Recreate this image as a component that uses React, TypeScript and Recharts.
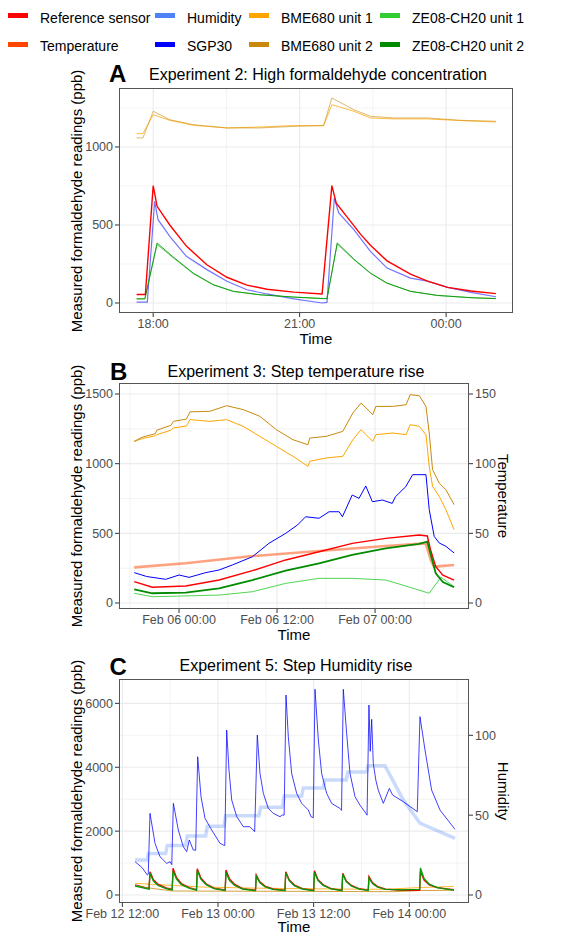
import React from 'react';
import { LineChart, Line, XAxis, YAxis, CartesianGrid } from 'recharts';

const FONT = '"Liberation Sans", Arial, Helvetica, sans-serif';

const RED = '#FF0000';
const TEMP = '#FF4500';
const HUM = '#4F83F5';
const SGP = '#0000FF';
const BME1 = '#FFA500';
const BME2 = '#C98A0C';
const ZE1 = '#32CD32';
const ZE2 = '#008B00';

// legend, column by column
const legendNames = [
  ['Reference sensor', 'Temperature'],
  ['Humidity', 'SGP30'],
  ['BME680 unit 1', 'BME680 unit 2'],
  ['ZE08-CH20 unit 1', 'ZE08-CH20 unit 2'],
];
const legendColors = [[RED, TEMP], [HUM, SGP], [BME1, BME2], [ZE1, ZE2]];

// ---- Experiment 2 (hours, 24 = midnight) ----
const aRefT = [17.66, 17.84, 18.0, 18.08, 18.34, 18.68, 19.1, 19.51, 19.92, 20.33, 20.88, 21.46, 21.66, 21.75, 21.95, 22.25, 22.45, 22.79, 23.27, 23.62, 24.03, 24.51, 25.02];
const aRef = [55, 55, 752, 620, 500, 365, 245, 165, 115, 88, 70, 58, 752, 640, 560, 440, 370, 270, 185, 140, 100, 77, 60];
const aSgpT = [17.66, 17.88, 18.03, 18.1, 18.34, 18.68, 19.1, 19.51, 19.92, 20.33, 20.88, 21.46, 21.56, 21.71, 21.8, 22.11, 22.45, 22.79, 23.27, 23.62, 24.03, 24.51, 25.02];
const aSgp = [6, 6, 652, 534, 427, 299, 214, 139, 85, 58, 26, 0, 4, 673, 577, 470, 331, 224, 160, 140, 100, 68, 40];
const aZeT = [17.66, 17.83, 18.08, 18.41, 18.82, 19.23, 19.64, 20.19, 20.88, 21.49, 21.56, 21.77, 22.11, 22.45, 22.79, 23.27, 23.82, 24.51, 25.02];
const aZe1 = [28, 28, 375, 290, 188, 116, 74, 52, 38, 29, 29, 378, 278, 190, 126, 74, 48, 34, 29];
const aZe2 = [26, 26, 385, 295, 192, 118, 75, 53, 38, 28, 28, 385, 282, 192, 128, 75, 49, 34, 28];
const aBmeT = [17.66, 17.79, 18.0, 18.34, 18.82, 19.51, 20.19, 20.88, 21.46, 21.49, 21.66, 22.11, 22.45, 22.93, 23.62, 24.3, 25.02];
const aBme1 = [1085, 1085, 1207, 1171, 1139, 1122, 1128, 1137, 1137, 1137, 1271, 1229, 1186, 1180, 1180, 1169, 1160];
const aBme2 = [1058, 1058, 1229, 1175, 1143, 1122, 1122, 1132, 1137, 1137, 1314, 1239, 1197, 1186, 1186, 1171, 1165];
const aTicks = [18, 21, 24];

// ---- Experiment 3 (hours from Feb 06 00:00) ----
const bBmeT = [-5.49, -4.5, -2.9, -2.73, -1.0, -0.69, 0.9, 1.34, 3.78, 5.82, 7.85, 9.89, 11.92, 13.95, 15.78, 16.0, 18.02, 20.05, 21.28, 22.29, 23.72, 24.1, 26.16, 27.8, 28.3, 29.41, 30.23, 30.63, 31.04, 31.85, 32.67, 33.68];
const bBme1 = [1160, 1180, 1200, 1208, 1240, 1256, 1270, 1316, 1304, 1316, 1268, 1196, 1124, 1053, 981, 1017, 1041, 1053, 1172, 1244, 1160, 1208, 1220, 1208, 1280, 1268, 1208, 981, 837, 766, 670, 526];
const bBme2 = [1160, 1190, 1215, 1240, 1275, 1304, 1320, 1372, 1376, 1416, 1388, 1340, 1244, 1172, 1136, 1184, 1196, 1232, 1364, 1435, 1352, 1411, 1411, 1423, 1495, 1488, 1411, 1220, 957, 861, 813, 706];
const bSgpT = [-5.49, -3.95, -1.63, 0, 1.22, 3.27, 4.9, 6.53, 8.98, 11.0, 13.06, 14.5, 15.5, 17.14, 18.37, 19.6, 20.0, 21.2, 22.04, 22.86, 23.67, 24.9, 26.1, 26.5, 27.76, 28.6, 30.23, 30.63, 31.24, 31.85, 32.67, 33.68];
const bSgp = [218, 190, 170, 201, 184, 218, 237, 273, 332, 428, 500, 560, 619, 608, 655, 655, 619, 775, 751, 840, 727, 739, 715, 763, 835, 921, 921, 670, 478, 431, 407, 359];
const bRefT = [-5.49, -3.27, 0.82, 4.9, 8.98, 13.06, 17.14, 21.2, 25.3, 29.4, 30.4, 30.8, 31.43, 32.3, 33.68];
const bRef = [153, 113, 122, 165, 232, 309, 368, 428, 464, 488, 481, 380, 261, 200, 165];
const bTempT = [-5.49, 0.82, 8.98, 17.14, 25.3, 30.2, 30.82, 31.22, 32.0, 33.68];
const bTemp = [25.6, 28.5, 33.7, 37.3, 40.9, 42.8, 30.9, 26.1, 26.5, 27.3];
const bZe2T = [-5.49, -3.27, 0.82, 4.9, 8.98, 13.06, 17.14, 21.2, 25.3, 29.4, 30.4, 31.43, 32.3, 33.68];
const bZe2 = [98, 70, 74, 105, 165, 232, 285, 345, 392, 424, 440, 213, 150, 113];
const bZe1T = [-5.49, -3.27, 4.9, 8.98, 13.06, 17.14, 21.2, 25.3, 27.36, 30.63, 32.06, 33.68];
const bZe1 = [70, 45, 57, 81, 141, 177, 177, 165, 129, 70, 185, 117];
const bTicks = [0, 12, 24];
const bTickLabels = ['Feb 06 00:00', 'Feb 06 12:00', 'Feb 07 00:00'];

// ---- Experiment 5 (hours from Feb 13 00:00) ----
const cSgpT = [-10.4, -9.5, -8.87, -8.75, -8.53, -7.9, -7.28, -6.44, -6.0, -5.8, -5.6, -4.98, -4.35, -3.93, -3.6, -3.1, -2.8, -2.55, -2.13, -1.63, -0.79, 0.25, 0.67, 0.85, 1.09, 1.38, 1.72, 2.35, 3.18, 4.0, 4.6, 4.93, 5.27, 5.69, 6.31, 6.94, 7.78, 8.07, 8.3, 8.53, 8.82, 9.24, 9.87, 10.5, 11.33, 11.67, 11.95, 12.17, 12.59, 13.0, 13.63, 14.26, 15.3, 15.5, 15.72, 16.14, 16.56, 17.19, 17.8, 18.56, 18.7, 18.94, 19.1, 19.28, 19.48, 19.8, 20.1, 20.74, 21.5, 21.9, 23.25, 25.0, 25.34, 25.97, 26.8, 27.85, 29.73];
const cSgp = [1043, 850, 626, 650, 2557, 1618, 1200, 992, 1043, 950, 2870, 2035, 1513, 1357, 1722, 1409, 1400, 4330, 3078, 2400, 2035, 1618, 1565, 1550, 5166, 3913, 2974, 2452, 2139, 2139, 1983, 5009, 3809, 3183, 2713, 2557, 2452, 2505, 2500, 6262, 4957, 3809, 3183, 2870, 2661, 2452, 2420, 6440, 4853, 3809, 3183, 2870, 2713, 2650, 6440, 5062, 3809, 3078, 2818, 2557, 2500, 5949, 4500, 5500, 4122, 3600, 3287, 2870, 3340, 3131, 2922, 2609, 5584, 4540, 3287, 2661, 2057];
const cHumT = [-10.4, -8.87, -8.74, -6.57, -6.36, -4.06, -3.85, -1.55, -1.34, 0.75, 0.96, 5.14, 5.35, 8.07, 8.3, 10.5, 10.7, 13.2, 13.4, 16.1, 16.3, 18.65, 18.85, 20.95, 23.25, 25.34, 25.8, 29.73];
const cHum = [22, 22, 26, 26, 31, 31, 37, 37, 43, 43, 49.6, 49.6, 55, 55, 62, 62, 67, 67, 72, 72, 77, 77, 81, 81, 59.5, 45, 44, 35.5];
const cPeakT = [-10.4, -8.65, -8.53, -8.1, -7.5, -6.5, -5.75, -5.64, -5.2, -4.6, -3.6, -2.7, -2.6, -2.15, -1.5, -0.5, 0.9, 1.0, 1.45, 2.1, 3.1, 4.7, 4.8, 5.25, 5.9, 6.9, 8.4, 8.5, 8.95, 9.6, 10.6, 12.0, 12.1, 12.55, 13.2, 14.2, 15.55, 15.65, 16.1, 16.75, 17.75, 18.85, 18.94, 19.4, 20.0, 21.0, 23.0, 25.3, 25.4, 25.85, 26.5, 27.5, 29.6];
const cRef = [313, 200, 730, 480, 330, 220, 175, 835, 540, 360, 230, 165, 824, 530, 350, 215, 155, 783, 500, 330, 200, 150, 626, 410, 280, 190, 150, 730, 470, 310, 200, 150, 757, 480, 320, 200, 150, 678, 440, 300, 195, 150, 574, 380, 270, 185, 150, 150, 730, 470, 320, 230, 165];
const cZe1 = [300, 190, 670, 430, 295, 205, 165, 740, 490, 325, 215, 155, 760, 490, 325, 205, 145, 700, 450, 295, 190, 140, 580, 380, 255, 180, 140, 680, 440, 285, 190, 140, 700, 450, 295, 195, 140, 640, 410, 275, 185, 145, 520, 350, 245, 180, 165, 180, 820, 510, 335, 235, 155];
const cZe2 = [280, 180, 690, 440, 300, 200, 160, 760, 500, 330, 210, 150, 780, 500, 330, 200, 140, 720, 460, 300, 185, 135, 600, 390, 260, 175, 135, 700, 450, 290, 185, 135, 720, 460, 300, 190, 135, 660, 420, 280, 180, 140, 540, 360, 250, 175, 160, 175, 850, 520, 340, 230, 150];
const cBme1T = [-10.4, -5.7, -2, 4.8, 12, 19, 21, 25, 29.6];
const cBme1 = [365, 300, 250, 215, 195, 180, 180, 230, 270];
const cBme2T = [-10.4, -8, -5.7, 10, 21, 22, 25.5, 29.6];
const cBme2 = [280, 200, 125, 115, 105, 105, 140, 150];
const cTicks = [-12, 0, 12, 24];
const cTickLabels = ['Feb 12 12:00', 'Feb 13 00:00', 'Feb 13 12:00', 'Feb 14 00:00'];

type Pt = { t: number; v: number };
type Series = { data: Pt[]; color: string; width?: number; opacity?: number; right?: boolean };

const zip = (t: number[], v: number[]): Pt[] => t.map((x, i) => ({ t: x, v: v[i] }));

const tickStyle = { fill: '#4D4D4D', fontSize: 12.5, fontFamily: FONT };

interface PanelProps {
  plotTop: number;
  plotBottom: number;
  plotRight: number;
  xDomain: [number, number];
  xTicks: number[];
  xMinor: number[];
  xFmt: (v: number) => string;
  yDomain: [number, number];
  yTicks: number[];
  yMinor: number[];
  rightScale?: number;
  rightTicks?: number[];
  series: Series[];
}

function Panel(p: PanelProps) {
  const top = p.plotTop - 20;
  const height = p.plotBottom + 30 - top;
  const rightW = 578 - p.plotRight;
  const k = p.rightScale || 1;
  return (
    <div style={{ position: 'absolute', left: 0, top }}>
      <LineChart width={578} height={height} margin={{ top: 20, right: p.rightScale ? 0 : rightW, bottom: 0, left: 0 }}>
        <CartesianGrid stroke="#EBEBEB" strokeWidth={0.6} horizontalValues={p.yMinor} verticalValues={p.xMinor} />
        <CartesianGrid stroke="#EBEBEB" strokeWidth={1.1} horizontalValues={p.yTicks} verticalValues={p.xTicks} />
        <XAxis
          type="number"
          dataKey="t"
          domain={p.xDomain}
          ticks={p.xTicks}
          interval={0}
          allowDataOverflow
          tickFormatter={p.xFmt}
          height={30}
          axisLine={false}
          tickLine={{ stroke: '#333333' }}
          tickSize={4}
          tickMargin={2}
          tick={tickStyle}
        />
        <YAxis
          type="number"
          domain={p.yDomain}
          ticks={p.yTicks}
          interval={0}
          allowDataOverflow
          width={119}
          axisLine={false}
          tickLine={{ stroke: '#333333' }}
          tickSize={4}
          tickMargin={2}
          tick={tickStyle}
        />
        {p.rightScale && (
          <YAxis
            yAxisId="r"
            orientation="right"
            type="number"
            domain={[p.yDomain[0] / k, p.yDomain[1] / k]}
            ticks={p.rightTicks}
            interval={0}
            allowDataOverflow
            width={rightW}
            axisLine={false}
            tickLine={{ stroke: '#333333' }}
            tickSize={4}
            tickMargin={2}
            tick={tickStyle}
          />
        )}
        {p.series.map((s, i) => (
          <Line
            key={i}
            data={s.data}
            dataKey="v"
            yAxisId={s.right ? 'r' : 0}
            type="linear"
            stroke={s.color}
            strokeWidth={s.width || 1}
            strokeOpacity={s.opacity ?? 1}
            dot={false}
            activeDot={false}
            isAnimationActive={false}
          />
        ))}
      </LineChart>
      <div
        style={{
          position: 'absolute',
          left: 119,
          top: 20,
          width: p.plotRight - 119,
          height: p.plotBottom - p.plotTop,
          border: '1px solid #555555',
          boxSizing: 'border-box',
          pointerEvents: 'none',
        }}
      />
    </div>
  );
}

// text placed by its baseline (Liberation Sans metrics)
function Txt({ x, y, size, children, center, bold, lh = 1 }: { x: number; y: number; size: number; children: React.ReactNode; center?: boolean; bold?: boolean; lh?: number }) {
  const baseOff = ((lh - 1.117) / 2 + 0.905) * size;
  return (
    <div
      style={{
        position: 'absolute',
        left: x,
        top: y - baseOff,
        fontSize: size,
        lineHeight: lh,
        fontWeight: bold ? 700 : 400,
        whiteSpace: 'nowrap',
        transform: center ? 'translateX(-50%)' : undefined,
      }}
    >
      {children}
    </div>
  );
}

// rotated text placed by its centre
function VTxt({ x, y, angle, children }: { x: number; y: number; angle: number; children: React.ReactNode }) {
  return (
    <div
      style={{
        position: 'absolute',
        left: x,
        top: y,
        fontSize: 15,
        lineHeight: 1,
        whiteSpace: 'nowrap',
        transform: `translate(-50%, -50%) rotate(${angle}deg)`,
      }}
    >
      {children}
    </div>
  );
}

const yLabel = 'Measured formaldehyde readings (ppb)';

export default function App() {
  const legendX = [8, 155, 249, 380];
  return (
    <div style={{ position: 'absolute', left: 0, top: 0, width: 578, height: 933, background: '#fff', fontFamily: FONT, color: '#000', overflow: 'hidden' }}>
      {legendNames.map((col, ci) =>
        col.map((name, ri) => (
          <React.Fragment key={name}>
            <div style={{ position: 'absolute', left: legendX[ci], top: 13 + ri * 29, width: 20, height: 5, background: legendColors[ci][ri] }} />
            <Txt x={legendX[ci] + 32} y={22.7 + ri * 28.5} size={14}>{name}</Txt>
          </React.Fragment>
        ))
      )}

      <Panel
        plotTop={88}
        plotBottom={313}
        plotRight={513}
        xDomain={[17.3, 25.37]}
        xTicks={aTicks}
        xMinor={[19.5, 22.5]}
        xFmt={(h) => `${String(h % 24).padStart(2, '0')}:00`}
        yDomain={[-64, 1378]}
        yTicks={[0, 500, 1000]}
        yMinor={[250, 750, 1250]}
        series={[
          { data: zip(aBmeT, aBme1), color: BME1, opacity: 0.75 },
          { data: zip(aBmeT, aBme2), color: BME2, opacity: 0.6 },
          { data: zip(aSgpT, aSgp), color: SGP, opacity: 0.55, width: 1.2 },
          { data: zip(aZeT, aZe1), color: ZE1, opacity: 0.8 },
          { data: zip(aZeT, aZe2), color: ZE2, opacity: 0.8 },
          { data: zip(aRefT, aRef), color: RED, width: 1.4 },
        ]}
      />
      <Txt x={109} y={82.7} size={24} bold>A</Txt>
      <Txt x={318} y={80.7} size={16} center>Experiment 2: High formaldehyde concentration</Txt>
      <Txt x={316} y={343.3} size={15} center>Time</Txt>
      <VTxt x={76} y={200.5} angle={-90}>{yLabel}</VTxt>

      <Panel
        plotTop={383}
        plotBottom={609}
        plotRight={469}
        xDomain={[-7.35, 35.5]}
        xTicks={bTicks}
        xMinor={[-6, 6, 18, 30]}
        xFmt={(h) => bTickLabels[bTicks.indexOf(h)] ?? ''}
        yDomain={[-43, 1579]}
        yTicks={[0, 500, 1000, 1500]}
        yMinor={[250, 750, 1250]}
        rightScale={10}
        rightTicks={[0, 50, 100, 150]}
        series={[
          { data: zip(bTempT, bTemp), color: TEMP, opacity: 0.5, width: 2.6, right: true },
          { data: zip(bBmeT, bBme1), color: BME1 },
          { data: zip(bBmeT, bBme2), color: BME2 },
          { data: zip(bSgpT, bSgp), color: SGP },
          { data: zip(bRefT, bRef), color: RED, width: 1.4 },
          { data: zip(bZe1T, bZe1), color: ZE1, opacity: 0.85 },
          { data: zip(bZe2T, bZe2), color: ZE2, width: 1.8 },
        ]}
      />
      <Txt x={110} y={380.7} size={24} bold>B</Txt>
      <Txt x={296} y={377.3} size={16} center>Experiment 3: Step temperature rise</Txt>
      <Txt x={294} y={640} size={15} center>Time</Txt>
      <VTxt x={76} y={496} angle={-90}>{yLabel}</VTxt>
      <VTxt x={502.6} y={496} angle={90}>Temperature</VTxt>

      <Panel
        plotTop={679}
        plotBottom={903}
        plotRight={469}
        xDomain={[-12.42, 31.49]}
        xTicks={cTicks}
        xMinor={[-6, 6, 18, 30]}
        xFmt={(h) => cTickLabels[cTicks.indexOf(h)] ?? ''}
        yDomain={[-250, 6763]}
        yTicks={[0, 2000, 4000, 6000]}
        yMinor={[1000, 3000, 5000]}
        rightScale={50}
        rightTicks={[0, 50, 100]}
        series={[
          { data: zip(cHumT, cHum), color: HUM, opacity: 0.3, width: 3.5, right: true },
          { data: zip(cSgpT, cSgp), color: SGP, opacity: 0.75 },
          { data: zip(cBme1T, cBme1), color: BME1, opacity: 0.8 },
          { data: zip(cBme2T, cBme2), color: BME2, opacity: 0.8 },
          { data: zip(cPeakT, cRef), color: RED, width: 1.4 },
          { data: zip(cPeakT, cZe1), color: ZE1, opacity: 0.85, width: 1.2 },
          { data: zip(cPeakT, cZe2), color: ZE2, opacity: 0.85, width: 1.2 },
        ]}
      />
      <Txt x={109.5} y={675} size={24} bold>C</Txt>
      <Txt x={296} y={671.7} size={16} center>Experiment 5: Step Humidity rise</Txt>
      <Txt x={294} y={931.5} size={15} center lh={0.75}>Time</Txt>
      <VTxt x={76} y={791} angle={-90}>{yLabel}</VTxt>
      <VTxt x={502.6} y={791} angle={90}>Humidity</VTxt>
    </div>
  );
}
